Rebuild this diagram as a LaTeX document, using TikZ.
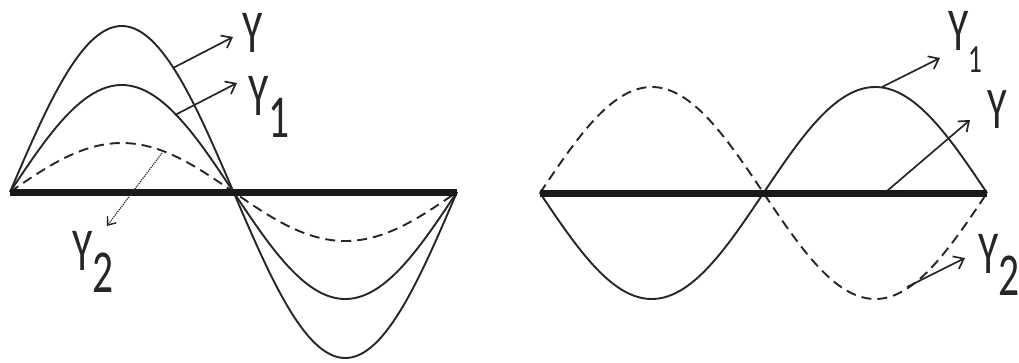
\documentclass[tikz,border=0pt]{standalone}
\usepackage{fontspec}
\setmainfont{Carlito}
\usetikzlibrary{arrows.meta}
\tikzset{
  wave/.style={line width=1.9pt, black!85},
  dwave/.style={wave, dash pattern=on 10pt off 6pt},
  axisline/.style={line width=7pt, black!90},
  lbl/.style={inner sep=0pt, anchor=base west, text=black!85, font=\fontsize{61}{61}\selectfont},
  pointer/.style={line width=1.7pt, black!85, -{Straight Barb[length=9pt,width=14pt,line width=1.7pt]}},
  thinpointer/.style={line width=1.2pt, black!85, densely dotted, -{Straight Barb[length=7pt,width=11pt,line width=1.4pt,sep=0pt]}},
}
\newcommand{\ylab}[1]{\scalebox{0.68}[1]{Y\raisebox{-22pt}{#1}}}
\newcommand{\ylabsmall}[1]{\scalebox{0.68}[1]{Y\raisebox{-22pt}{\fontsize{40}{40}\selectfont #1}}}
\begin{document}
\begin{tikzpicture}[x=1pt,y=-1pt]
\useasboundingbox (0,0) rectangle (1019,362);
% ---------- left panel ----------
\coordinate (LA) at (10,192);
\coordinate (LB) at (457,192);
\draw[wave] plot[domain=0:360,samples=150] ({10+1.241667*\x},{192-166*sin(\x)});
\draw[wave] plot[domain=0:360,samples=150] ({10+1.241667*\x},{192-107*sin(\x)});
\draw[dwave] plot[domain=0:360,samples=150] ({10+1.241667*\x},{192-49*sin(\x)});
\draw[axisline] (LA) -- (LB);

\node[lbl] (lY) at (242,52) {\ylab{}};
\node[lbl] (lY1) at (248,115) {\ylab{1}};
\node[lbl] (lY2) at (72,270) {\ylab{2}};

\coordinate (lYs) at (173,68);  \coordinate (lYe) at (233,37);
\coordinate (lY1s) at (175,115); \coordinate (lY1e) at (237,83);
\coordinate (lY2s) at (162,153); \coordinate (lY2e) at (107,226);
\draw[pointer] (lYs) -- (lYe);
\draw[pointer] (lY1s) -- (lY1e);
\draw[thinpointer] (lY2s) -- (lY2e);

% ---------- right panel ----------
\coordinate (RA) at (540,193);
\coordinate (RB) at (987,193);
\draw[wave] plot[domain=0:360,samples=150] ({540+1.241667*\x},{193+106*sin(\x)});
\draw[dwave] plot[domain=0:360,samples=150] ({540+1.241667*\x},{193-106*sin(\x)});
\draw[axisline] (RA) -- (RB);

\node[lbl] (rY1) at (948,50) {\ylabsmall{1}};
\node[lbl, font=\fontsize{59}{59}\selectfont] (rY) at (987,128) {\ylab{}};
\node[lbl] (rY2) at (978,273) {\ylab{2}};

\coordinate (rY1s) at (882,87);  \coordinate (rY1e) at (940,58);
\coordinate (rYs) at (887,191);  \coordinate (rYe) at (970,120);
\coordinate (rY2s) at (907,287); \coordinate (rY2e) at (965,258);
\draw[pointer] (rY1s) -- (rY1e);
\draw[pointer] (rYs) -- (rYe);
\draw[pointer] (rY2s) -- (rY2e);
\end{tikzpicture}
\end{document}
